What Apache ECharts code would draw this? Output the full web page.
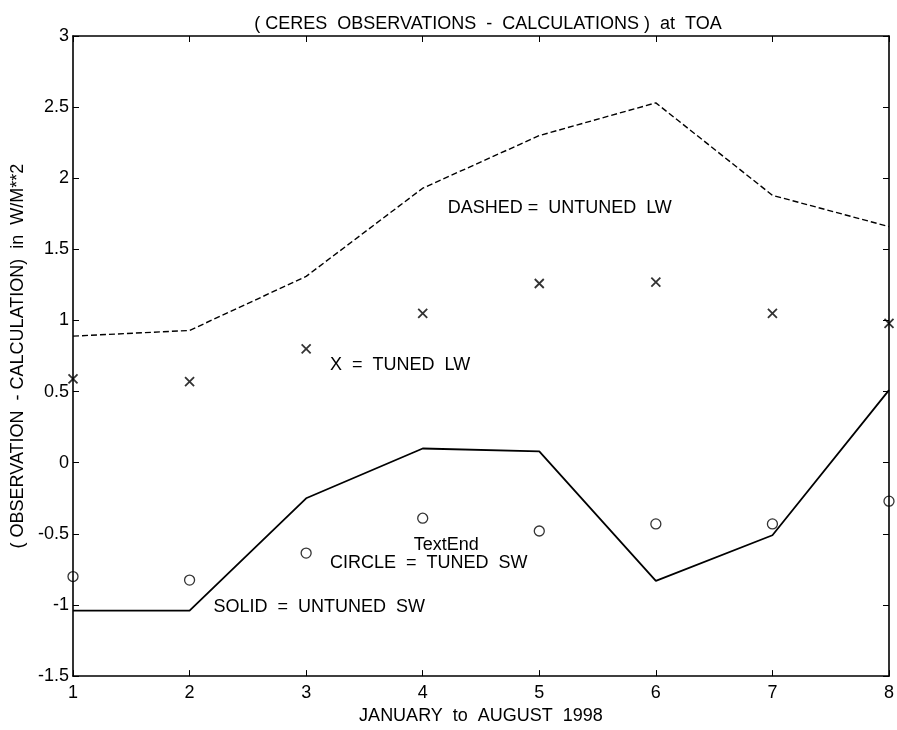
<!DOCTYPE html>
<html>
<head>
<meta charset="utf-8">
<script src="https://cdn.jsdelivr.net/npm/echarts@6/dist/echarts.min.js"></script>
<style>
html,body{margin:0;padding:0;background:#fff;overflow:hidden;}
#chart{width:897px;height:730px;}
</style>
</head>
<body>
<div id="chart"></div>
<script>
// Data
var months = [1, 2, 3, 4, 5, 6, 7, 8];
var untunedLW = [0.89, 0.93, 1.31, 1.93, 2.30, 2.53, 1.88, 1.66];   // dashed
var tunedLW   = [0.59, 0.57, 0.80, 1.05, 1.26, 1.27, 1.05, 0.98];   // x markers
var untunedSW = [-1.04, -1.04, -0.25, 0.10, 0.08, -0.83, -0.51, 0.51]; // solid
var tunedSW   = [-0.80, -0.825, -0.635, -0.39, -0.48, -0.43, -0.43, -0.27]; // circles

var titleText = '( CERES  OBSERVATIONS  -  CALCULATIONS )  at  TOA';
var xName = 'JANUARY  to  AUGUST  1998';
var yName = '( OBSERVATION  - CALCULATION)  in  W/M**2';

// annotations anchored in data coordinates: [x, y, text]
var notes = [
  [4.214, 1.793, 'DASHED =  UNTUNED  LW'],
  [3.205, 0.690, 'X  =  TUNED  LW'],
  [3.923, -0.580, 'TextEnd'],
  [3.205, -0.705, 'CIRCLE  =  TUNED  SW'],
  [2.205, -1.012, 'SOLID  =  UNTUNED  SW']
];

function pairs(xs, ys) { return xs.map(function (x, i) { return [x, ys[i]]; }); }

var FONT = 'Liberation Sans, Arial, Helvetica, sans-serif';
var FS = 18;

var chart = echarts.init(document.getElementById('chart'), null, {renderer: 'canvas'});

var axisCommon = {
  axisLine: {show: true, onZero: false, lineStyle: {color: '#000', width: 1.6}},
  axisTick: {show: true, inside: true, length: 6, lineStyle: {color: '#000', width: 1}},
  splitLine: {show: false}
};

var option = {
  backgroundColor: '#fff',
  animation: false,
  title: {
    text: titleText,
    left: 483, top: 10, textAlign: 'center',
    textStyle: {fontFamily: FONT, fontSize: FS, fontWeight: 'normal', color: '#000'}
  },
  grid: {left: 73, right: 5, top: 36, bottom: 49, containLabel: false},
  xAxis: [
    Object.assign({
      type: 'value', min: 1, max: 8, interval: 1, position: 'bottom',
      name: xName, nameLocation: 'middle', nameGap: 30,
      nameTextStyle: {fontFamily: FONT, fontSize: FS, color: '#000'},
      axisLabel: {color: '#000', fontFamily: FONT, fontSize: FS, margin: 8}
    }, axisCommon),
    Object.assign({
      type: 'value', min: 1, max: 8, interval: 1, position: 'top',
      axisLabel: {show: false}
    }, axisCommon)
  ],
  yAxis: [
    Object.assign({
      type: 'value', min: -1.5, max: 3, interval: 0.5, position: 'left',
      name: yName, nameLocation: 'middle', nameGap: 44,
      nameTextStyle: {fontFamily: FONT, fontSize: FS, color: '#000'},
      axisLabel: {color: '#000', fontFamily: FONT, fontSize: FS, margin: 4}
    }, axisCommon),
    Object.assign({
      type: 'value', min: -1.5, max: 3, interval: 0.5, position: 'right',
      axisLabel: {show: false}
    }, axisCommon)
  ],
  series: [
    {
      name: 'DASHED = UNTUNED LW', type: 'line', data: pairs(months, untunedLW),
      showSymbol: false, symbol: 'none',
      lineStyle: {color: '#000', width: 1.4, type: [6, 3]}
    },
    {
      name: 'SOLID = UNTUNED SW', type: 'line', data: pairs(months, untunedSW),
      showSymbol: false, symbol: 'none',
      lineStyle: {color: '#000', width: 1.8, type: 'solid'}
    },
    {
      name: 'X = TUNED LW', type: 'scatter', data: pairs(months, tunedLW),
      symbol: 'path://M0,0L10,10M10,0L0,10', symbolSize: 9,
      itemStyle: {color: 'none', borderColor: '#000', borderWidth: 1.8},
      clip: false
    },
    {
      name: 'CIRCLE = TUNED SW', type: 'scatter', data: pairs(months, tunedSW),
      symbol: 'circle', symbolSize: 10,
      itemStyle: {color: 'none', borderColor: '#000', borderWidth: 1.3},
      clip: false
    }
  ]
};

chart.setOption(option);

var g = notes.map(function (n) {
  var p = chart.convertToPixel({xAxisIndex: 0, yAxisIndex: 0}, [n[0], n[1]]);
  return {
    type: 'text', x: p[0], y: p[1],
    style: {text: n[2], fill: '#000', font: FS + 'px ' + FONT, textAlign: 'left', textVerticalAlign: 'middle'}
  };
});
chart.setOption({graphic: g});
</script>
</body>
</html>
